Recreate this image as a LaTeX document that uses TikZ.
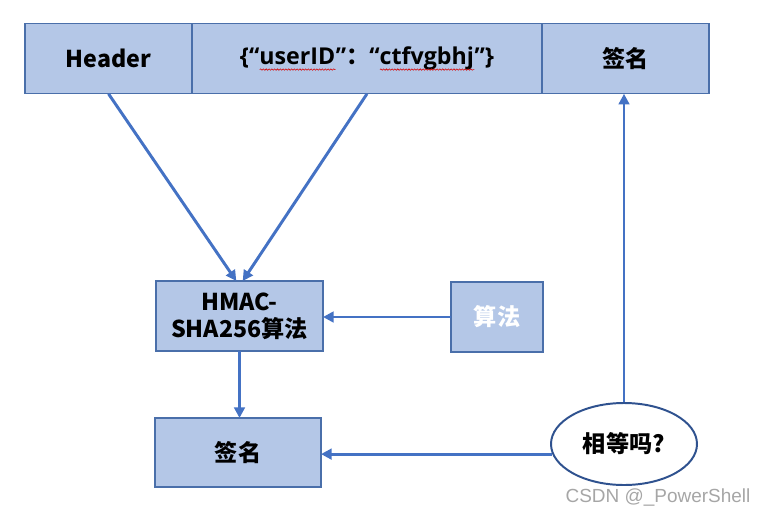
\documentclass[tikz,border=0pt]{standalone}
\usepackage{fontspec}
\setmainfont{Noto Sans CJK SC}
\newfontfamily\latinfont{Open Sans}
\newfontfamily\markfont{Liberation Sans}
\usetikzlibrary{arrows.meta, positioning, calc, shapes.geometric, decorations.pathmorphing}

\definecolor{cellfill}{HTML}{B4C7E7}
\definecolor{celledge}{HTML}{4A6FAA}
\definecolor{flow}{HTML}{4472C4}
\definecolor{ovaledge}{HTML}{2F528F}
% red spell-check wave under a word
\newsavebox\wavebox
\newcommand\spellwave[1]{\sbox\wavebox{#1}\rlap{\usebox\wavebox}%
  \tikz[baseline=0pt]\draw[red!85!black, line width=0.4pt, decorate,
    decoration={snake, amplitude=0.5pt, segment length=2pt}]
    (0,-3.4pt) -- (\wd\wavebox,-3.4pt);}

\begin{document}
\begin{tikzpicture}[
    cell/.style={rectangle, draw=celledge, fill=cellfill, line width=0.9pt,
      minimum height=1.75cm, inner sep=2pt, outer sep=0pt, align=center,
      font=\fontsize{16.5}{19}\selectfont\bfseries},
    oval/.style={ellipse, draw=ovaledge, fill=white, line width=1.4pt,
      minimum width=3.65cm, minimum height=2.05cm, inner sep=0pt,
      font=\fontsize{16.5}{19}\selectfont\bfseries},
    arrow/.style={-{Triangle[length=7.5pt,width=7.5pt]}, draw=flow, line width=2.1pt}
  ]
  \useasboundingbox (0,0) rectangle (19.425,-12.925);

  % token bar: header | payload | signature
  \node[cell, minimum width=4.175cm] (header) at (2.7125,-1.47) {Header};
  \node[cell, minimum width=8.75cm, right=0pt of header] (payload)
    {{\latinfont\{“\spellwave{userID}”}：{\latinfont“\spellwave{ctfvgbhj}”\}}};
  \node[cell, minimum width=4.175cm, right=0pt of payload] (sigtop) {签名};

  \node[cell, minimum width=4.175cm] (hmac) at (5.9875,-7.9) {HMAC-\\SHA256算法};
  \node[cell, minimum width=2.3cm, text=white] (alg) at (12.425,-7.925) {算法};
  \node[cell, minimum width=4.15cm, minimum height=1.725cm] (sig) at (5.95,-11.3125) {签名};
  \node[oval] (cmp) at (15.6,-11.1) {相等吗?};

  \node[text=gray!70, font=\markfont\fontsize{13.5}{15}\selectfont] (mark) at (16.45,-12.43) {CSDN @\_PowerShell};

  \draw[arrow] (header.south)  -- ([xshift=-0.08cm]hmac.north);
  \draw[arrow] (payload.south) -- ([xshift=0.08cm]hmac.north);
  \draw[arrow] (alg.west) -- (alg.west -| hmac.east);
  \draw[arrow] (hmac.south) -- (hmac.south |- sig.north);
  \draw[arrow] (cmp.188) -- (cmp.188 -| sig.east);
  \draw[arrow] (cmp.north) -- (cmp.north |- sigtop.south);
\end{tikzpicture}
\end{document}
